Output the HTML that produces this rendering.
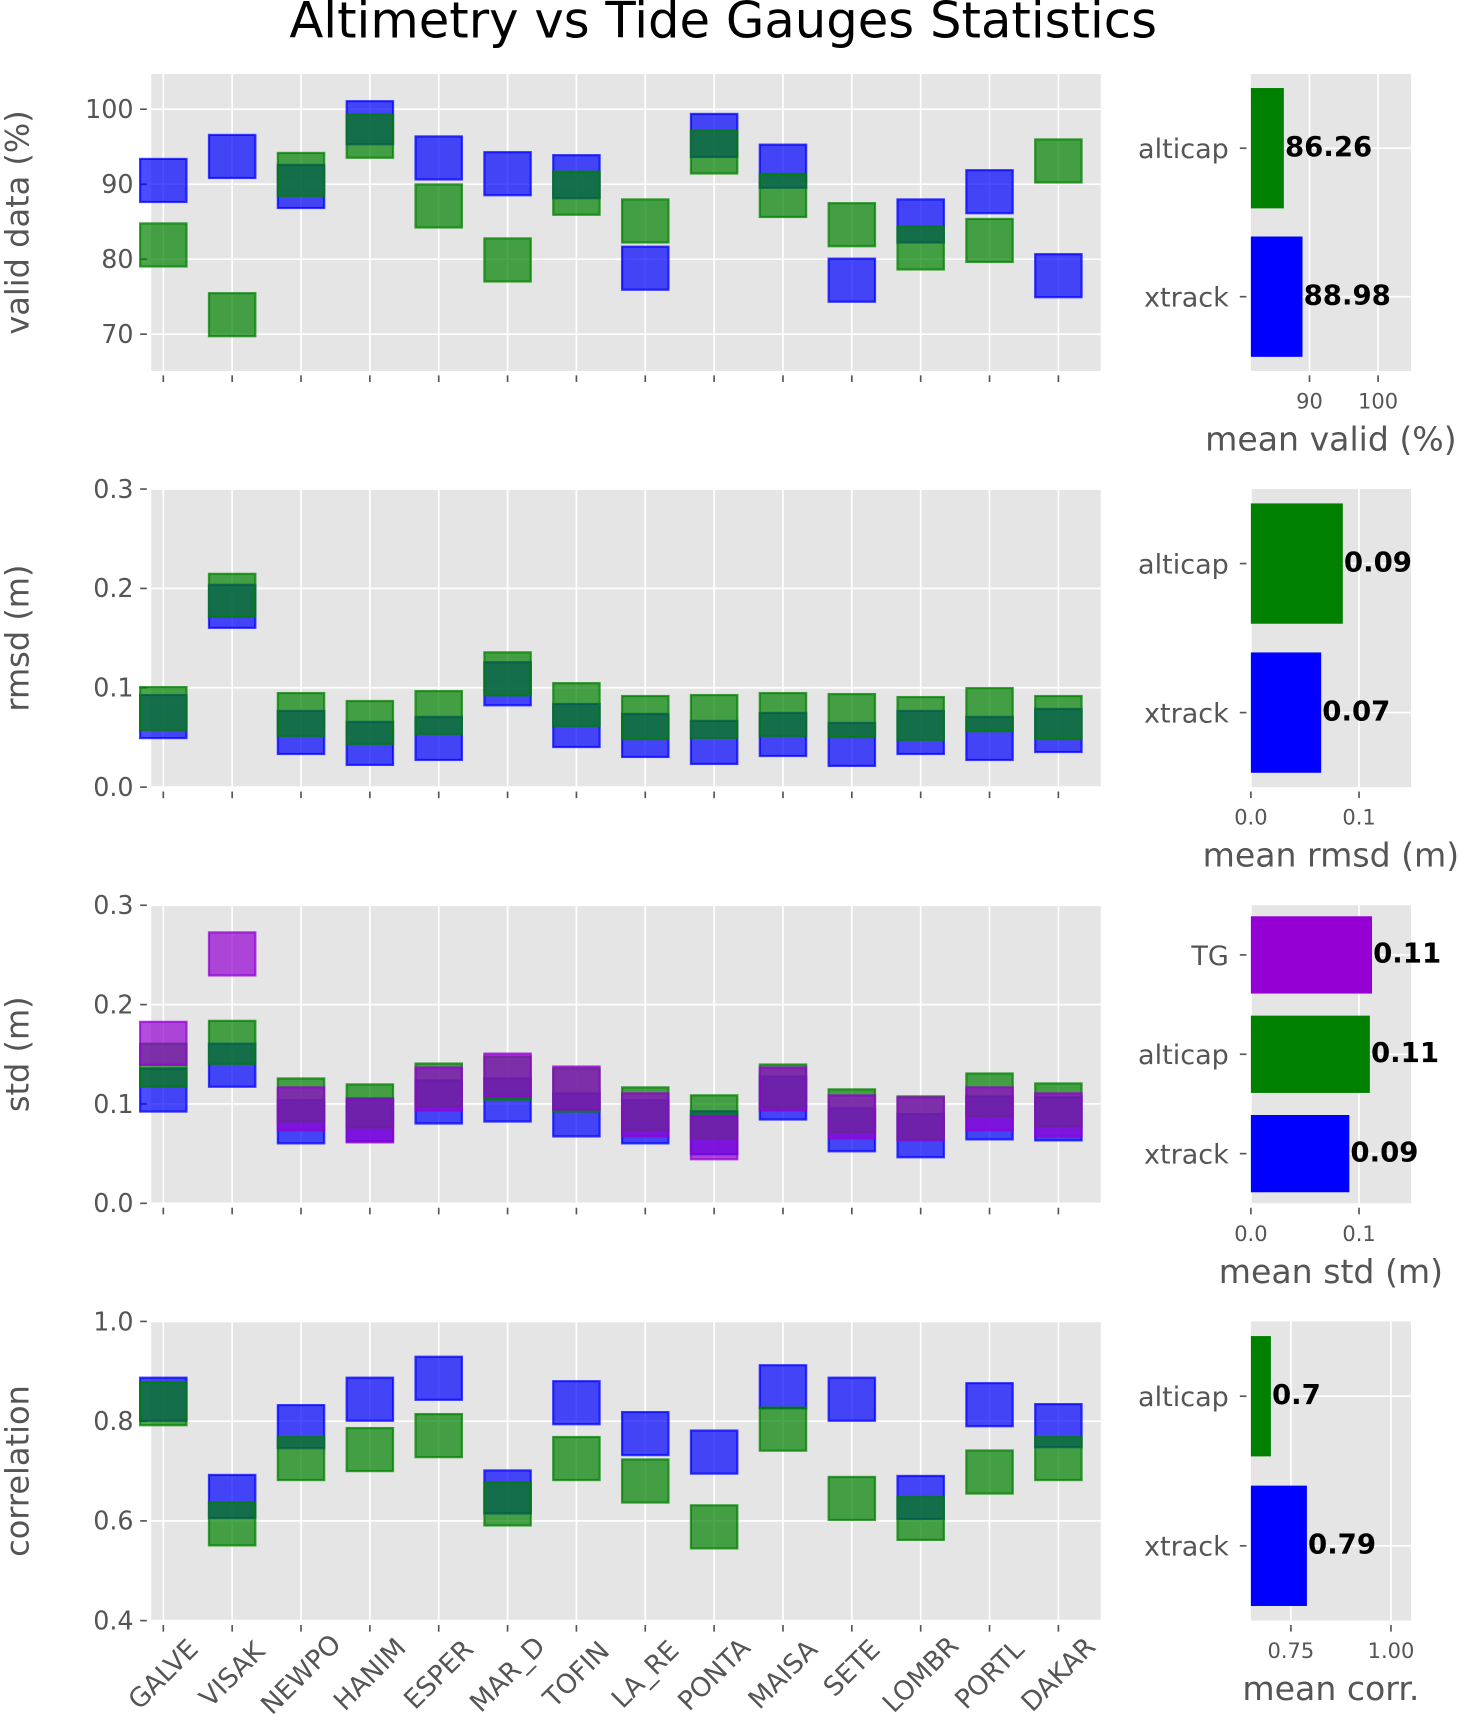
<!DOCTYPE html>
<html><head><meta charset="utf-8"><style>
html,body{margin:0;padding:0;background:#fff;}
svg{display:block;}
text{font-family:"DejaVu Sans","Liberation Sans",sans-serif;}
</style></head><body>
<svg id="fig" width="1458" height="1731" viewBox="0 0 1320.6 1568" preserveAspectRatio="none" xmlns="http://www.w3.org/2000/svg">
<text x="655" y="34" font-size="45" text-anchor="middle" fill="#000">Altimetry vs Tide Gauges Statistics</text>
</svg>
<script>
const categories=["GALVE","VISAK","NEWPO","HANIM","ESPER","MAR_D","TOFIN","LA_RE","PONTA","MAISA","SETE","LOMBR","PORTL","DAKAR"];
const validXtrack=[90.5,93.7,89.7,98.2,93.5,91.4,91.0,78.8,96.5,92.4,77.2,85.1,89.0,77.8];
const validAlticap=[81.9,72.6,91.3,96.4,87.1,79.9,88.8,85.1,94.3,88.5,84.6,81.5,82.5,93.1];
const rmsdXtrack=[0.071,0.182,0.055,0.044,0.049,0.104,0.062,0.052,0.045,0.053,0.043,0.055,0.049,0.057];
const rmsdAlticap=[0.079,0.193,0.073,0.065,0.075,0.114,0.083,0.070,0.071,0.073,0.072,0.069,0.078,0.070];
const stdXtrack=[0.114,0.139,0.082,0.084,0.102,0.104,0.089,0.082,0.071,0.106,0.074,0.068,0.086,0.085];
const stdAlticap=[0.139,0.162,0.104,0.098,0.119,0.126,0.114,0.095,0.087,0.118,0.093,0.086,0.109,0.099];
const stdTG=[0.161,0.251,0.095,0.083,0.115,0.129,0.116,0.089,0.066,0.115,0.087,0.085,0.095,0.089];
const corrXtrack=[0.844,0.649,0.789,0.844,0.886,0.658,0.837,0.775,0.738,0.869,0.844,0.647,0.833,0.791];
const corrAlticap=[0.835,0.594,0.725,0.743,0.771,0.634,0.725,0.680,0.588,0.784,0.645,0.605,0.698,0.725];
const meanValid=[86.26,88.98];
const meanRmsd=[0.085,0.065];
const meanRmsdLabels=["0.09","0.07"];
const meanStd=[0.112,0.110,0.091];
const meanStdLabels=["0.11","0.11","0.09"];
const meanCorr=[0.70,0.79];
const meanCorrLabels=["0.7","0.79"];
const validTicks=[70,80,90,100];
const errTicks=[0.0,0.1,0.2,0.3];
const corrTicks=[0.4,0.6,0.8,1.0];

const NS="http://www.w3.org/2000/svg";
const svg=document.getElementById('fig');
function mk(tag,attrs,parent){const e=document.createElementNS(NS,tag);for(const k in attrs)e.setAttribute(k,attrs[k]);(parent||svg).appendChild(e);return e;}
const AX0=137,AX1=997,RX0=1133,RX1=1278;
const XMIN=-0.175,XMAX=13.615;
function xs(i){return AX0+(i-XMIN)/(XMAX-XMIN)*(AX1-AX0);}
const GREEN="#008000",BLUE="#0000ff",PURPLE="#9400d3";
const TC="#555";

function panel(name,top,bot,ymin,ymax,ticks,tfmt,ylabel,series,showX){
  const g=mk('g',{});
  
  
  const ys=v=>bot-(v-ymin)/(ymax-ymin)*(bot-top);
  const bg=mk('rect',{x:AX0,y:top,width:AX1-AX0,height:bot-top,fill:'#e5e5e5'},g);
  
  
  categories.forEach((c,i)=>{const x=xs(i);
    mk('line',{x1:x,x2:x,y1:top,y2:bot,stroke:'#fff','stroke-width':1.5},g);
    mk('line',{x1:x,x2:x,y1:bot+4,y2:bot+10,stroke:TC,'stroke-width':1.5},g);
    if(showX){const w=c.length*16+24;const cy=bot+12+w*0.707/2;
      const t=mk('text',{x:x,y:cy+8,'font-size':24,fill:TC,'text-anchor':'middle',transform:`rotate(-45 ${x} ${cy})`},g);t.textContent=c;
      
      }
  });
  ticks.forEach(v=>{const y=ys(v);
    mk('line',{x1:AX0,x2:AX1,y1:y,y2:y,stroke:'#fff','stroke-width':1.5},g);
    mk('line',{x1:AX0-10,x2:AX0-4,y1:y,y2:y,stroke:TC,'stroke-width':1.5},g);
    const t=mk('text',{x:AX0-16,y:y+8,'font-size':23,fill:TC,'text-anchor':'end'},g);t.textContent=tfmt(v);
    
    
  });
  const cy=(top+bot)/2;
  const yl=mk('text',{x:26,y:cy,'font-size':29,fill:TC,'text-anchor':'middle',transform:`rotate(-90 26 ${cy})`},g);yl.textContent=ylabel;
  
  
  series.forEach(s=>{s.vals.forEach((v,i)=>{
    const r=mk('rect',{x:xs(i)-21,y:ys(v)-19.5,width:42,height:39,fill:s.col,'fill-opacity':0.7,stroke:s.col,'stroke-opacity':0.75,'stroke-width':2},g);
    
    
  });});
}
panel('valid',67,336,65.1,104.7,validTicks,v=>String(v),'valid data (%)',[{vals:validXtrack,col:BLUE,name:'xtrack'},{vals:validAlticap,col:GREEN,name:'alticap'}],false);
panel('rmsd',443,713,0,0.3,errTicks,v=>v.toFixed(1),'rmsd (m)',[{vals:rmsdXtrack,col:BLUE,name:'xtrack'},{vals:rmsdAlticap,col:GREEN,name:'alticap'}],false);
panel('std',820,1090,0,0.3,errTicks,v=>v.toFixed(1),'std (m)',[{vals:stdXtrack,col:BLUE,name:'xtrack'},{vals:stdAlticap,col:GREEN,name:'alticap'},{vals:stdTG,col:PURPLE,name:'tg'}],false);
panel('corr',1197,1468,0.4,1.0,corrTicks,v=>v.toFixed(1),'correlation',[{vals:corrXtrack,col:BLUE,name:'xtrack'},{vals:corrAlticap,col:GREEN,name:'alticap'}],true);

function barPanel(name,top,bot,xmin,xmax,xticks,xfmt,xlabel,labels,vals,valLabels,cols,barH){
  const g=mk('g',{});
  
  
  const xb=v=>RX0+(v-xmin)/(xmax-xmin)*(RX1-RX0);
  mk('rect',{x:RX0,y:top,width:RX1-RX0,height:bot-top,fill:'#e5e5e5'},g);
  xticks.forEach(v=>{const x=xb(v);
    mk('line',{x1:x,x2:x,y1:top,y2:bot,stroke:'#fff','stroke-width':1.5},g);
    mk('line',{x1:x,x2:x,y1:bot+4,y2:bot+10,stroke:TC,'stroke-width':1.5},g);
    const t=mk('text',{x:x,y:bot+34,'font-size':19,fill:TC,'text-anchor':'middle'},g);t.textContent=xfmt(v);
    
    
  });
  const n=vals.length,step=(bot-top)/n;
  vals.forEach((v,i)=>{
    const cy=bot-step*(i+0.5);
    mk('line',{x1:RX0,x2:RX1,y1:cy,y2:cy,stroke:'#fff','stroke-width':1.5},g);
    mk('line',{x1:RX0-10,x2:RX0-4,y1:cy,y2:cy,stroke:TC,'stroke-width':1.5},g);
    const t=mk('text',{x:RX0-20,y:cy+9,'font-size':24.5,fill:TC,'text-anchor':'end'},g);t.textContent=labels[i];
    
    
    const r=mk('rect',{x:RX0,y:cy-barH/2,width:xb(v)-RX0,height:barH,fill:cols[i]},g);
    
    
    const vt=mk('text',{x:xb(v)+1,y:cy+7,'font-size':25,'font-weight':'bold',fill:'#000'},g);vt.textContent=valLabels[i];
    
    
  });
  const xl=mk('text',{x:(RX0+RX1)/2,y:bot+72,'font-size':30,fill:TC,'text-anchor':'middle'},g);xl.textContent=xlabel;
  
  
}
barPanel('mean-valid',67,336,81.45,104.8,[90,100],v=>String(v),'mean valid (%)',['xtrack','alticap'],[meanValid[1],meanValid[0]],['88.98','86.26'],[BLUE,GREEN],109);
barPanel('mean-rmsd',443,713,0,0.148,[0,0.1],v=>v.toFixed(1),'mean rmsd (m)',['xtrack','alticap'],[meanRmsd[1],meanRmsd[0]],[meanRmsdLabels[1],meanRmsdLabels[0]],[BLUE,GREEN],109);
barPanel('mean-std',820,1090,0,0.148,[0,0.1],v=>v.toFixed(1),'mean std (m)',['xtrack','alticap','TG'],[meanStd[2],meanStd[1],meanStd[0]],[meanStdLabels[2],meanStdLabels[1],meanStdLabels[0]],[BLUE,GREEN,PURPLE],70);
barPanel('mean-corr',1197,1468,0.65,1.05,[0.75,1.0],v=>v.toFixed(2),'mean corr.',['xtrack','alticap'],[meanCorr[1],meanCorr[0]],[meanCorrLabels[1],meanCorrLabels[0]],[BLUE,GREEN],109);
</script>
</body></html>
